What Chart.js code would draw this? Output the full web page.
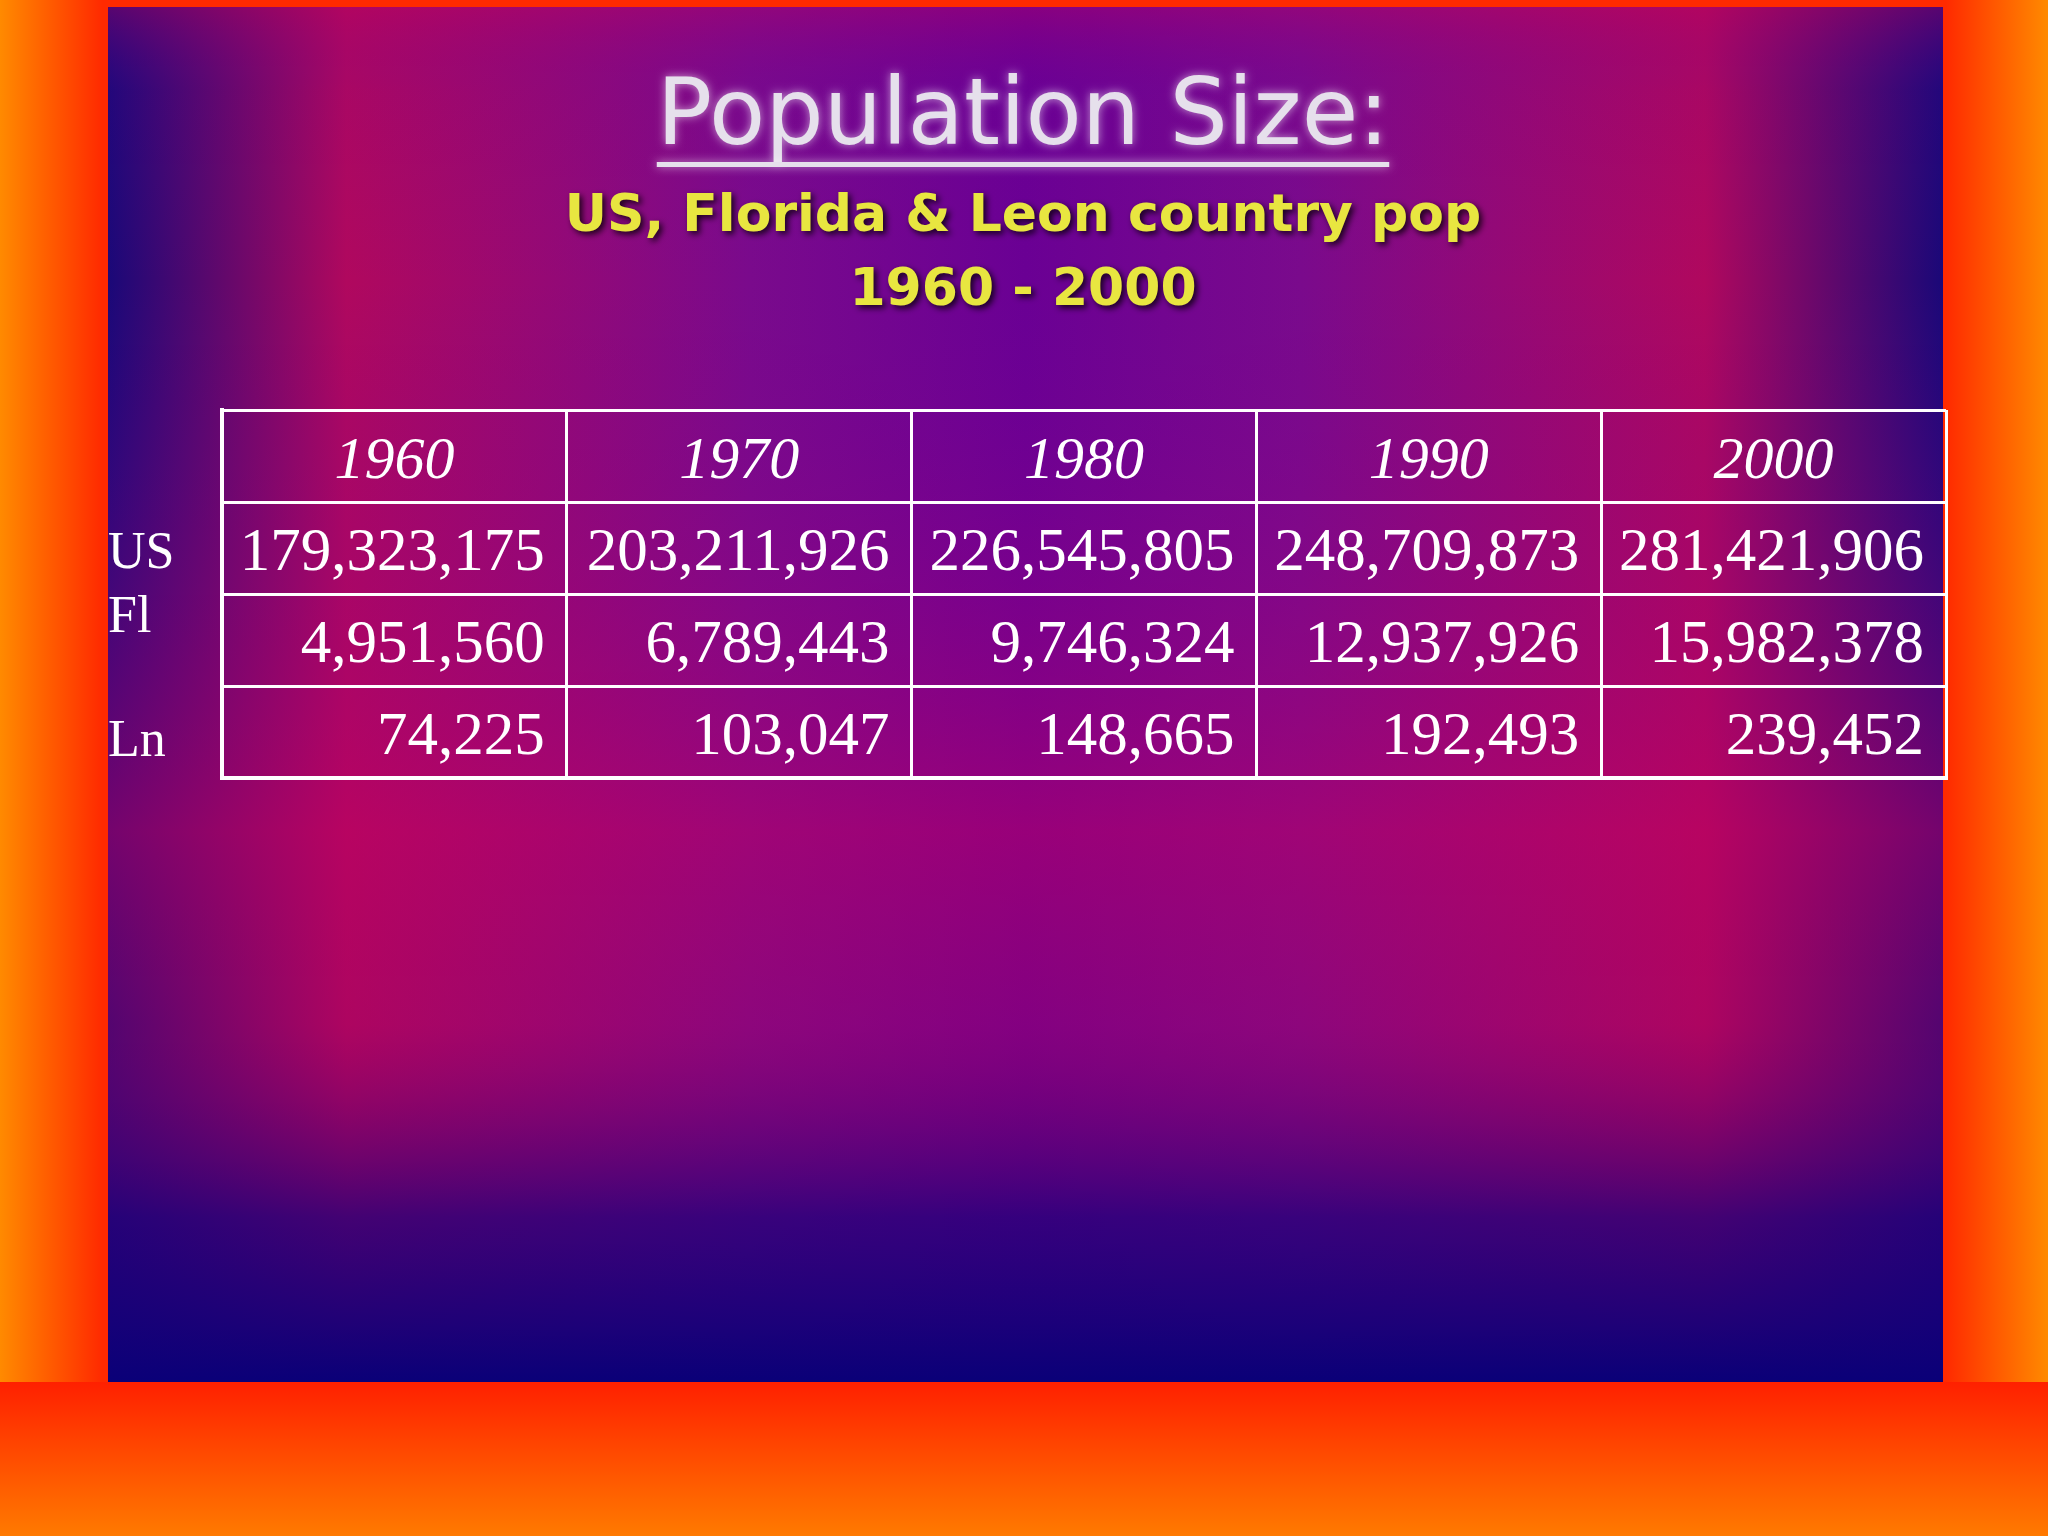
<!DOCTYPE html>
<html><head><meta charset="utf-8">
<script src="https://cdn.jsdelivr.net/npm/chart.js@4/dist/chart.umd.min.js"></script>
<style>html,body{margin:0;padding:0;background:#ff6a00}canvas{display:block}</style>
</head><body>
<div style="width:2048px;height:1536px"><canvas id="c" width="2048" height="1536"></canvas></div>
<script>
const years = ['1960','1970','1980','1990','2000'];
const rowLabels = ['US','Fl','Ln'];
const usPop = [179323175, 203211926, 226545805, 248709873, 281421906];
const flPop = [4951560, 6789443, 9746324, 12937926, 15982378];
const lnPop = [74225, 103047, 148665, 192493, 239452];
const rows = [usPop, flPop, lnPop];
const fmt = v => v.toLocaleString('en-US');

const bg = {
  id:'bg',
  beforeDraw(chart){
    const ctx = chart.ctx, W=2048, H=1536;
    ctx.save();
    let g = ctx.createLinearGradient(0,0,W,0);
    g.addColorStop(0,'#ff8a00'); g.addColorStop(0.05,'#ff2a00'); g.addColorStop(0.95,'#ff2a00'); g.addColorStop(1,'#ff8a00');
    ctx.fillStyle=g; ctx.fillRect(0,0,W,H);
    g = ctx.createLinearGradient(0,1382,0,H);
    g.addColorStop(0,'#ff2000'); g.addColorStop(1,'#ff7a00');
    ctx.fillStyle=g; ctx.fillRect(0,1382,W,H-1382);
    const x0=108,x1=1943,y0=7,y1=1382;
    g = ctx.createLinearGradient(x0,0,x1,0);
    g.addColorStop(0,'#1a0878'); g.addColorStop(0.13,'#b0085e'); g.addColorStop(0.35,'#7a0a8c');
    g.addColorStop(0.5,'#6a0094'); g.addColorStop(0.65,'#7a0a8c'); g.addColorStop(0.87,'#b0085e'); g.addColorStop(1,'#1a0878');
    ctx.fillStyle=g; ctx.fillRect(x0,y0,x1-x0,y1-y0);
    g = ctx.createLinearGradient(0,y0,0,y1);
    g.addColorStop(0,'rgba(180,0,100,0.4)'); g.addColorStop(0.06,'rgba(110,0,150,0.1)'); g.addColorStop(0.2,'rgba(110,0,150,0)');
    g.addColorStop(0.6,'rgba(190,0,100,0.55)'); g.addColorStop(0.74,'rgba(170,0,100,0.4)');
    g.addColorStop(0.88,'rgba(40,0,120,0.8)'); g.addColorStop(1,'rgba(10,0,120,1)');
    ctx.fillStyle=g; ctx.fillRect(x0,y0,x1-x0,y1-y0);
    ctx.textAlign='center'; ctx.textBaseline='middle';
    ctx.shadowColor='rgba(255,255,255,0.6)'; ctx.shadowBlur=10;
    ctx.font='92px "DejaVu Sans"'; ctx.fillStyle='#e6e0ec';
    ctx.fillText('Population Size:',1023,120);
    const tw = ctx.measureText('Population Size:').width;
    ctx.fillRect(1023-tw/2,162,tw,5);
    ctx.shadowColor='rgba(0,0,0,0.8)'; ctx.shadowBlur=6; ctx.shadowOffsetX=3; ctx.shadowOffsetY=3;
    ctx.font='bold 52px "DejaVu Sans"'; ctx.fillStyle='#e8e640';
    ctx.fillText('US, Florida & Leon country pop',1023,217);
    ctx.fillText('1960 - 2000',1023,291);
    ctx.restore();
  },
  afterDraw(chart){
    const ctx=chart.ctx, xs=chart.scales.x, ys=chart.scales.y;
    ctx.save(); ctx.fillStyle='#fff'; ctx.textBaseline='middle';
    ctx.font='italic 60px "Liberation Serif"'; ctx.textAlign='center';
    years.forEach((y,i)=>ctx.fillText(y,xs.getPixelForValue(i+0.5),ys.getPixelForValue(0.5)+6));
    ctx.font='61px "Liberation Serif"'; ctx.textAlign='right';
    rows.forEach((r,ri)=>r.forEach((v,i)=>ctx.fillText(fmt(v),xs.getPixelForValue(i+1)-22,ys.getPixelForValue(ri+1.5)+6)));
    ctx.textAlign='left'; ctx.font='52px "Liberation Serif"';
    const off=[0,-0.3,0.05];
    rowLabels.forEach((l,ri)=>ctx.fillText(l,108,ys.getPixelForValue(ri+1.5+off[ri])+6));
    ctx.restore();
  }
};

new Chart(document.getElementById('c'),{
  type:'scatter',
  data:{datasets:[{data:[]}]},
  options:{
    responsive:false, animation:false, devicePixelRatio:1,
    layout:{padding:{left:222,right:102,top:410,bottom:758}},
    plugins:{legend:{display:false},tooltip:{enabled:false}},
    scales:{
      x:{type:'linear',min:0,max:5,ticks:{display:false,stepSize:1},
         grid:{color:'#fff',lineWidth:3,drawTicks:false},border:{color:'#fff',width:4}},
      y:{type:'linear',min:0,max:4,reverse:true,ticks:{display:false,stepSize:1},
         grid:{color:'#fff',lineWidth:3,drawTicks:false},border:{color:'#fff',width:4}}
    }
  },
  plugins:[bg]
});
</script>
</body></html>
